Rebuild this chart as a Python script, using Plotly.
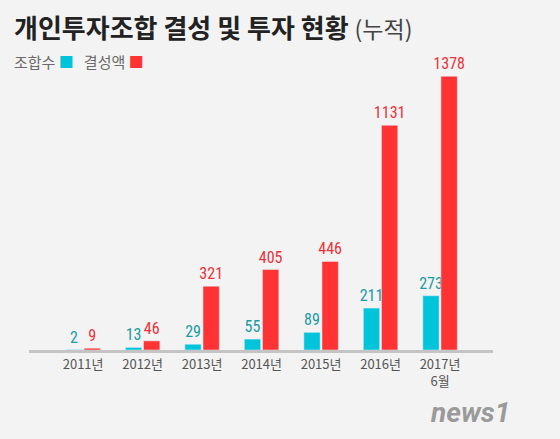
import plotly.graph_objects as go

years = ["2011년", "2012년", "2013년", "2014년", "2015년", "2016년", "2017년<br>6월"]
funds_count = [2, 13, 29, 55, 89, 211, 273]      # 조합수
funds_amount = [9, 46, 321, 405, 446, 1131, 1378]  # 결성액

CYAN = "#00c5da"
RED = "#ff3333"
KR = "Noto Sans CJK KR"
NUM = "Roboto Condensed, Roboto, Noto Sans CJK KR"

fig = go.Figure()
fig.add_trace(go.Bar(
    x=years, y=funds_count, name="조합수", marker_color=CYAN,
    text=funds_count, textposition="outside", cliponaxis=False,
    textfont=dict(color="#1a9aa3", size=16, family=NUM),
))
fig.add_trace(go.Bar(
    x=years, y=funds_amount, name="결성액", marker_color=RED,
    text=funds_amount, textposition="outside", cliponaxis=False,
    textfont=dict(color="#e8323a", size=16, family=NUM),
))

fig.update_layout(
    width=560, height=439,
    margin=dict(l=29, r=67, t=52, b=89, autoexpand=False),
    paper_bgcolor="#f3f3f3", plot_bgcolor="rgba(0,0,0,0)",
    barmode="group", bargap=0.39, bargroupgap=0.1,
    uniformtext=dict(minsize=16, mode="show"),
    showlegend=False,
    font=dict(family=KR),
    xaxis=dict(
        range=[-0.91, 6.89], showline=True, linewidth=3, linecolor="#c4c4c4",
        showgrid=False, ticks="", tickfont=dict(size=13, color="#555555", family=KR),
    ),
    yaxis=dict(range=[0, 1500], visible=False),
)

fig.add_annotation(
    xref="paper", yref="paper", x=(12 - 29) / 464, y=1 + 26 / 298, xanchor="left", yanchor="middle",
    text="<b>개인투자조합 결성 및 투자 현황</b> <span style='font-size:23px;font-weight:400;color:#444'>(누적)</span>",
    font=dict(size=26, color="#222222", family=KR, weight=900), showarrow=False,
)
fig.add_annotation(
    xref="paper", yref="paper", x=(12 - 29) / 464, y=1 - 10 / 298, xanchor="left", yanchor="middle",
    text=f"조합수 <span style='color:{CYAN}'>■</span>   결성액 <span style='color:{RED}'>■</span>",
    font=dict(size=15, color="#6a6a6a", family=KR), showarrow=False,
)
fig.add_annotation(
    xref="paper", yref="paper", x=(512 - 29) / 464, y=-62 / 298, xanchor="right", yanchor="middle",
    text="<b><i>news1</i></b>",
    font=dict(size=28, color="#9a9a9a", family="Roboto"), showarrow=False,
)

# page body has a default 8px margin; drop it so the figure sits at the window corner
fig.write_html("out.html", config={"displayModeBar": False},
               post_script="document.body.style.margin='0';")
